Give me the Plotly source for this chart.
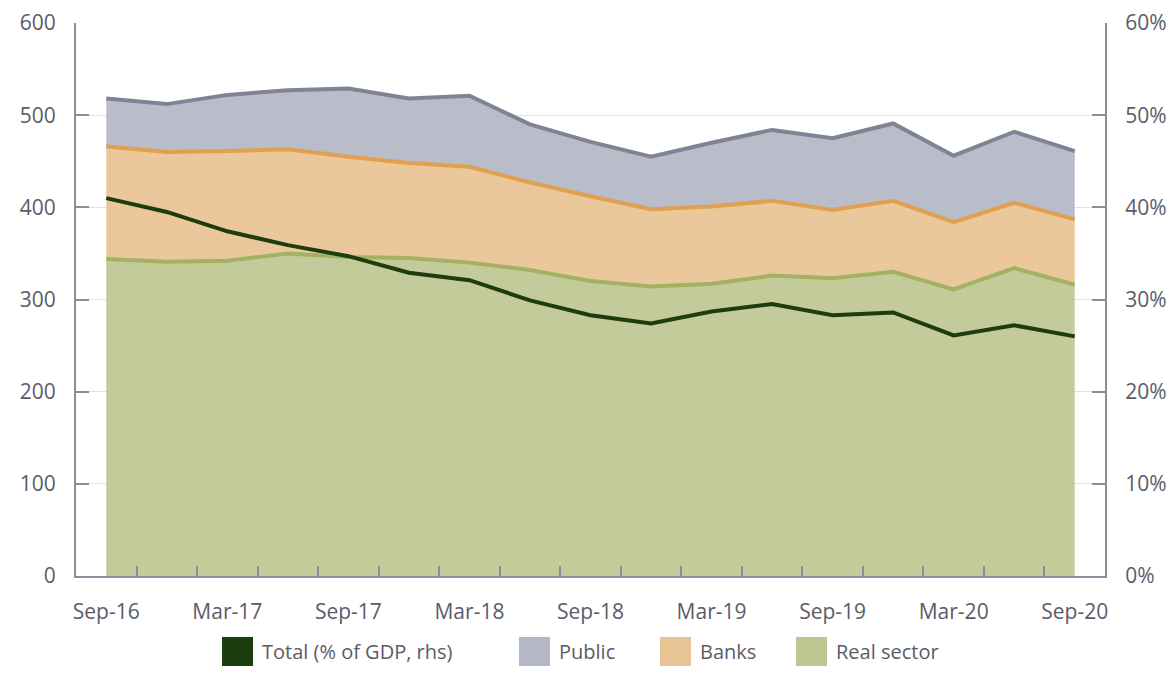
import plotly.graph_objects as go

quarters = ["Sep-16", "Dec-16", "Mar-17", "Jun-17", "Sep-17", "Dec-17", "Mar-18", "Jun-18",
            "Sep-18", "Dec-18", "Mar-19", "Jun-19", "Sep-19", "Dec-19", "Mar-20", "Jun-20", "Sep-20"]
real_sector = [344, 341, 342, 350, 346, 345, 340, 332, 320, 314, 317, 326, 323, 330, 311, 334, 316]
banks = [122, 119, 119, 113, 109, 103, 104, 95, 92, 84, 84, 81, 74, 77, 73, 71, 71]
public = [52, 52, 61, 64, 74, 70, 77, 63, 59, 57, 69, 77, 78, 84, 72, 77, 74]
total_pct = [41.0, 39.5, 37.4, 35.9, 34.7, 32.9, 32.1, 29.9, 28.3, 27.4, 28.7, 29.5, 28.3, 28.6, 26.1, 27.2, 26.0]

legend_names = ["Total (% of GDP, rhs)", "Public", "Banks", "Real sector"]
legend_colors = ["#1c3d0d", "#b4b7c5", "#e8c494", "#bec792"]

x_idx = list(range(len(quarters)))
label_idx = x_idx[::2]
label_txt = quarters[::2]

FONT = "Open Sans"
TXT = "#5b5c68"
AXC = "#8a8c9c"
OFF = 8  # page body margin
W, H = 1175 - 2 * OFF, 675 - 2 * OFF
ML, MT = 76 - OFF, 23 - OFF
MR = W - (1105 - OFF)
MB = H - (576 - OFF)
PW, PH = W - ML - MR, H - MT - MB


def px_x(px):
    return (px - OFF - ML) / PW


def px_y(py):
    return (H - MB - (py - OFF)) / PH


fig = go.Figure()

fig.add_trace(go.Scatter(x=x_idx, y=real_sector, name="Real sector", stackgroup="s",
                         mode="lines", line=dict(color="#a2b262", width=4),
                         fillcolor="rgba(190,199,146,0.93)", showlegend=False))
fig.add_trace(go.Scatter(x=x_idx, y=banks, name="Banks", stackgroup="s",
                         mode="lines", line=dict(color="#e0a04e", width=4),
                         fillcolor="rgba(232,196,148,0.93)", showlegend=False))
fig.add_trace(go.Scatter(x=x_idx, y=public, name="Public", stackgroup="s",
                         mode="lines", line=dict(color="#7f8394", width=4),
                         fillcolor="rgba(180,183,197,0.93)", showlegend=False))
fig.add_trace(go.Scatter(x=x_idx, y=total_pct, name="Total (% of GDP, rhs)", yaxis="y2",
                         mode="lines", line=dict(color="#1c3d0d", width=4), showlegend=False))

# legend drawn as square swatches + text (layout only)
sq_left = [222, 519, 660, 796]
shapes, annotations = [], []
for nm, col, sx in zip(legend_names, legend_colors, sq_left):
    shapes.append(dict(type="rect", xref="paper", yref="paper",
                       x0=px_x(sx), x1=px_x(sx + 31), y0=px_y(666), y1=px_y(637),
                       fillcolor=col, line=dict(width=0), layer="above"))
    annotations.append(dict(xref="paper", yref="paper", x=px_x(sx + 38), y=px_y(651),
                            xanchor="left", yanchor="middle", showarrow=False, text=nm,
                            font=dict(family=FONT, size=20, color=TXT)))

fig.update_layout(
    width=W, height=H,
    margin=dict(l=ML, r=MR, t=MT, b=MB, autoexpand=False),
    paper_bgcolor="white", plot_bgcolor="white",
    font=dict(family=FONT, size=20, color=TXT),
    showlegend=False,
    shapes=shapes, annotations=annotations,
    xaxis=dict(range=[-0.5, 16.5], tickmode="array", tickvals=label_idx, ticktext=label_txt,
               showgrid=False, zeroline=False, showline=True, linecolor=AXC, linewidth=2,
               ticks="", ticklabelstandoff=16, automargin=False,
               minor=dict(tickmode="array", tickvals=[i + 0.5 for i in range(16)],
                          ticks="inside", ticklen=10, tickcolor=AXC, tickwidth=2, showgrid=False),
               tickfont=dict(size=21, color=TXT)),
    yaxis=dict(range=[0, 600], dtick=100, showgrid=True, gridcolor="#dfe2ec", gridwidth=1,
               zeroline=False, showline=True, linecolor=AXC, linewidth=2, automargin=False,
               ticks="inside", ticklen=13, tickcolor=AXC, tickwidth=2,
               ticklabelstandoff=14, tickfont=dict(size=21, color=TXT)),
    yaxis2=dict(range=[0, 60], dtick=10, overlaying="y", side="right", showgrid=False,
                zeroline=False, showline=True, linecolor=AXC, linewidth=2, automargin=False,
                ticks="inside", ticklen=13, tickcolor=AXC, tickwidth=2, ticksuffix="%",
                ticklabelstandoff=14, tickfont=dict(size=21, color=TXT)),
)

fig.write_html("out.html")
